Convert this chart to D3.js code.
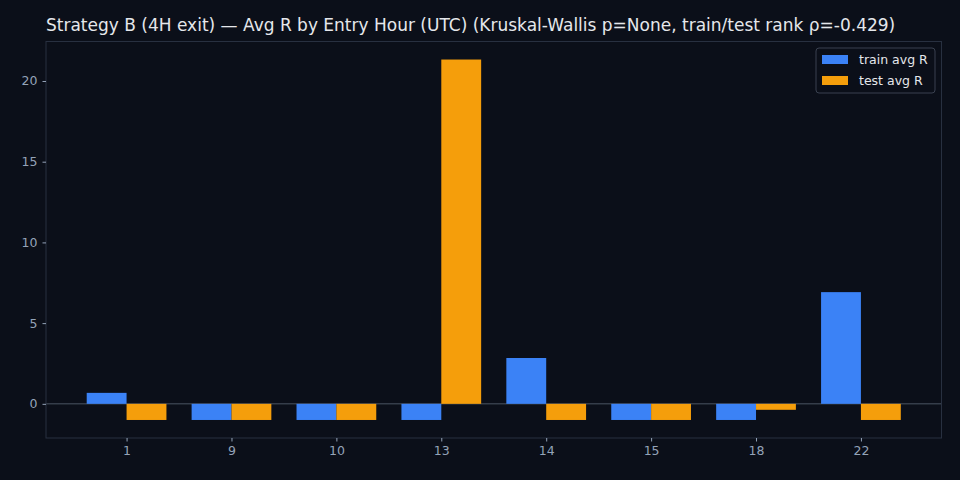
<!DOCTYPE html>
<html><head><meta charset="utf-8">
<script src="https://cdn.jsdelivr.net/npm/d3@7"></script>
<style>
html,body{margin:0;padding:0;background:#0b0f19;}
svg{display:block;font-family:"DejaVu Sans",sans-serif;}
</style></head>
<body><svg id="c" width="960" height="480"></svg>
<script>
const categories = ["1","9","10","13","14","15","18","22"];
const trainAvgR = [0.68, -1, -1, -1, 2.84, -1, -1, 6.92];
const testAvgR = [-1, -1, -1, 21.33, -1, -1, -0.37, -1];
const yTicks = [0, 5, 10, 15, 20];
const seriesNames = ["train avg R", "test avg R"];
const colors = ["#3b82f6", "#f59e0b"];
const titleText = "Strategy B (4H exit) \u2014 Avg R by Entry Hour (UTC) (Kruskal-Wallis p=None, train/test rank \u03c1=-0.429)";

const svg = d3.select("#c");
const L = 46, R = 941.5, T = 41.5, B = 438;
svg.append("rect").attr("width",960).attr("height",480).attr("fill","#0b0f19");
svg.append("rect").attr("x",L).attr("y",T).attr("width",R-L).attr("height",B-T).attr("fill","#0b0f19");

const barW = 0.38;
const n = categories.length;
const x = d3.scaleLinear().domain([-barW - 0.388, (n-1) + barW + 0.388]).range([L, R]);
const allV = trainAvgR.concat(testAvgR);
const vmin = d3.min(allV), vmax = d3.max(allV);
const pad = (vmax - vmin) * 0.05;
const y = d3.scaleLinear().domain([vmin - pad, vmax + pad]).range([B, T]);

// zero line
svg.append("line").attr("x1",L).attr("x2",R).attr("y1",y(0)).attr("y2",y(0))
  .attr("stroke","#4b5563").attr("stroke-width",1);

const series = [trainAvgR, testAvgR];
series.forEach((vals, si) => {
  svg.append("g").selectAll("rect").data(vals).join("rect")
    .attr("x",(d,i)=> x(i + (si===0 ? -barW : 0)))
    .attr("width",(d,i)=> x(barW) - x(0))
    .attr("y", d => y(Math.max(0,d)))
    .attr("height", d => Math.abs(y(d) - y(0)))
    .attr("fill", colors[si]);
});

// spines
svg.append("rect").attr("x",L).attr("y",T).attr("width",R-L).attr("height",B-T)
  .attr("fill","none").attr("stroke","#283040").attr("stroke-width",1);

// axes
const yAxis = d3.axisLeft(y).tickValues(yTicks).tickSize(3.5).tickPadding(5).tickFormat(d3.format("d"));
const gy = svg.append("g").attr("transform",`translate(${L},0)`).call(yAxis);
const xAxis = d3.axisBottom(x).tickValues(d3.range(n)).tickSize(3.5).tickPadding(5).tickFormat(i=>categories[i]);
const gx = svg.append("g").attr("transform",`translate(0,${B})`).call(xAxis);
[gx,gy].forEach(g=>{
  g.select(".domain").remove();
  g.selectAll(".tick line").attr("stroke","#94a3b8");
  g.selectAll("text").attr("fill","#94a3b8").attr("font-size","12.5px").attr("font-family","DejaVu Sans");
});

// title
svg.append("text").attr("x",L).attr("y",31).attr("fill","#e5e7eb")
  .attr("font-size","17px").attr("font-family","DejaVu Sans").text(titleText);

// legend
const lg = svg.append("g");
lg.append("rect").attr("x",816).attr("y",48).attr("width",119).attr("height",45).attr("rx",3)
  .attr("fill","#0b0f19").attr("stroke","#3a4150").attr("stroke-width",1);
seriesNames.forEach((s,i)=>{
  lg.append("rect").attr("x",822).attr("y",55+i*21).attr("width",26).attr("height",9).attr("fill",colors[i]);
  lg.append("text").attr("x",859).attr("y",64+i*21).attr("fill","#e5e7eb")
    .attr("font-size","12.5px").attr("font-family","DejaVu Sans").text(s);
});
</script></body></html>
